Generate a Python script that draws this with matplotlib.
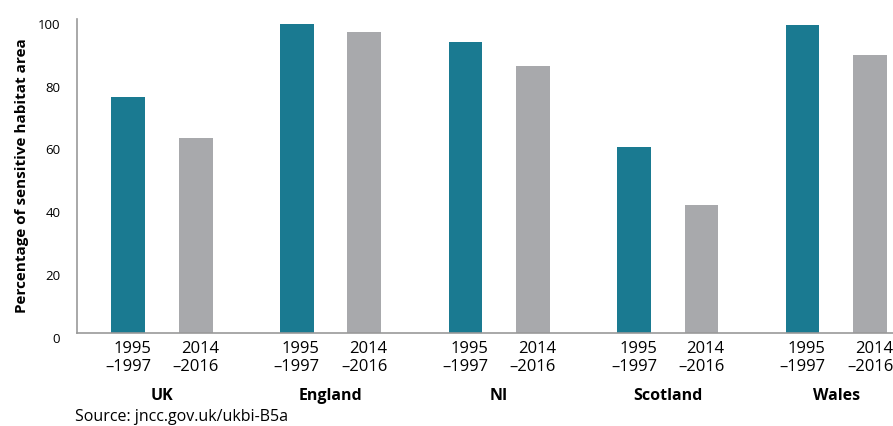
import matplotlib
matplotlib.use("Agg")
import matplotlib.pyplot as plt
import numpy as np

plt.rcParams['font.family'] = ['Open Sans', 'DejaVu Sans']

# Data
regions = ["UK", "England", "NI", "Scotland", "Wales"]
periods = ["1995\n\u20131997", "2014\n\u20132016"]
early = [75.0, 98.3, 92.5, 59.1, 97.9]
late = [62.0, 95.7, 84.9, 40.7, 88.4]

teal = "#1a7a91"
grey = "#a8a9ac"
axis_grey = "#999999"

fig = plt.figure(figsize=(8.93, 4.26), dpi=100)
ax = fig.add_axes([0.0862, 0.218, 0.9138, 0.738])

g = np.arange(len(regions)) * 2.5
ax.bar(g, early, width=0.5, color=teal)
ax.bar(g + 1, late, width=0.5, color=grey)

ax.set_xlim(-0.76, 11.34)
ax.set_ylim(0, 100)
ax.set_yticks([0, 20, 40, 60, 80, 100])
ax.tick_params(axis='y', length=0, labelsize=9.5, pad=12)
for lab in ax.get_yticklabels():
    lab.set_verticalalignment('top')

xt = np.concatenate([g, g + 1])
ax.set_xticks(xt)
ax.set_xticklabels(periods[:1] * len(regions) + periods[1:] * len(regions),
                   multialignment='right', fontsize=12, linespacing=1.12)
ax.tick_params(axis='x', length=0, pad=6)

for s in ['top', 'right']:
    ax.spines[s].set_visible(False)
for s in ['left', 'bottom']:
    ax.spines[s].set_color(axis_grey)
    ax.spines[s].set_linewidth(1.2)

ax.set_ylabel("Percentage of sensitive habitat area", fontsize=11,
              fontweight='bold')
ax.yaxis.set_label_coords(-0.059, 0.5)

for x, name in zip(g + 0.5, regions):
    ax.text(x, -0.2, name, transform=ax.get_xaxis_transform(),
            ha='center', va='center', fontsize=11.5, fontweight='bold')

fig.text(75 / 893, 1 - 417 / 426, "Source: jncc.gov.uk/ukbi-B5a",
         ha='left', va='center', fontsize=11.5)

fig.savefig("out.png", dpi=100)
